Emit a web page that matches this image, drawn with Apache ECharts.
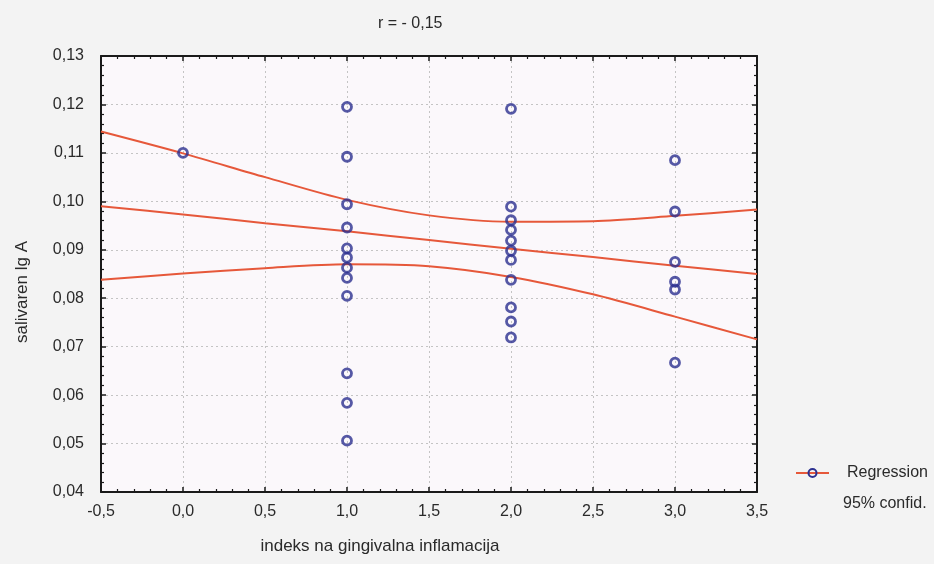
<!DOCTYPE html>
<html>
<head>
<meta charset="utf-8">
<script src="https://cdn.jsdelivr.net/npm/echarts@6/dist/echarts.min.js"></script>
<style>
  html, body { margin: 0; padding: 0; background: #f3f3f3; }
  #chart { width: 934px; height: 564px; }
</style>
</head>
<body>
<div id="chart"></div>
<script>
// Gingival inflammation index vs. salivary lg A
const idx0 = [0.110];
const idx1 = [0.1195, 0.1092, 0.0994, 0.0946, 0.0903, 0.0884, 0.0863, 0.0842, 0.0805, 0.0645, 0.0584, 0.0506];
const idx2 = [0.1191, 0.0989, 0.0961, 0.0941, 0.0919, 0.0898, 0.0879, 0.0838, 0.0781, 0.0752, 0.0719];
const idx3 = [0.1085, 0.0979, 0.0875, 0.0834, 0.0818, 0.0667];

// Regression line and 95% confidence band, sampled along the index axis
const bandX = [-0.5, 0.0, 0.5, 1.0, 1.5, 2.0, 2.5, 3.0, 3.5];
const fitY  = [0.0990, 0.0973, 0.0955, 0.0938, 0.0920, 0.0902, 0.0885, 0.0867, 0.0850];
const upperY = [0.1144, 0.1099, 0.1050, 0.1003, 0.0971, 0.0958, 0.0959, 0.0970, 0.0983];
const lowerY = [0.0838, 0.0851, 0.0862, 0.0870, 0.0866, 0.0844, 0.0808, 0.0762, 0.0715];

const xTicks = { min: -0.5, max: 3.5, step: 0.5 };
const yTicks = { min: 0.04, max: 0.13, step: 0.01 };

const groups = [[0, idx0], [1, idx1], [2, idx2], [3, idx3]];
const points = [];
groups.forEach(([x, ys]) => ys.forEach(y => points.push([x, y])));
const pairs = ys => bandX.map((x, i) => [x, ys[i]]);

const comma = (v, d) => v.toFixed(d).replace('.', ',');
const FONT = 'Liberation Sans, Arial, sans-serif';
const INK = '#2a2a2a';
const RED = '#e6583a';
const BLUE = '#2c3090';

function frameAxis(pos, isX, withLabels) {
  const r = isX ? xTicks : yTicks;
  return {
    type: 'value', position: pos,
    min: r.min, max: r.max, interval: r.step,
    axisLine: { show: true, onZero: false, lineStyle: { color: '#1a1a1a', width: 2 } },
    axisTick: { show: true, inside: true, length: 5, lineStyle: { color: '#1a1a1a', width: 1.5 } },
    minorTick: { show: true, splitNumber: 5, length: 3, lineStyle: { color: '#1a1a1a', width: 1.2 } },
    splitLine: withLabels ? { show: true, lineStyle: { color: '#c4c4c4', type: [2, 3], width: 1 } } : { show: false },
    axisLabel: withLabels ? {
      show: true, color: INK, fontFamily: FONT, fontSize: 16,
      margin: isX ? 12 : 17,
      formatter: v => comma(v, isX ? 1 : 2)
    } : { show: false }
  };
}

const chart = echarts.init(document.getElementById('chart'), null, { renderer: 'canvas' });
chart.setOption({
  backgroundColor: '#f3f3f3',
  animation: false,
  title: {
    text: 'r = - 0,15', left: 373, top: 11,
    textStyle: { fontFamily: FONT, fontSize: 16, fontWeight: 'normal', color: INK }
  },
  grid: { left: 101, top: 56, width: 656, height: 436, show: true, backgroundColor: '#fbf8fb', borderWidth: 0 },
  xAxis: [frameAxis('bottom', true, true), frameAxis('top', true, false)],
  yAxis: [frameAxis('left', false, true), frameAxis('right', false, false)],
  legend: {
    data: ['Regression'], left: 795, top: 465, padding: 0,
    itemWidth: 33, itemHeight: 10,
    textStyle: { fontFamily: FONT, fontSize: 16, color: INK, padding: [0, 0, 0, 13] }
  },
  graphic: [
    { type: 'text', x: 843, y: 504,
      style: { text: '95% confid.', font: '16px ' + FONT, fill: INK, verticalAlign: 'middle' } },
    { type: 'text', x: 380, y: 546,
      style: { text: 'indeks na gingivalna inflamacija', font: '17px ' + FONT, fill: INK, align: 'center', verticalAlign: 'middle' } },
    { type: 'text', x: 22, y: 292, rotation: Math.PI / 2,
      style: { text: 'salivaren lg A', font: '17px ' + FONT, fill: INK, align: 'center', verticalAlign: 'middle' } }
  ],
  series: [
    { name: 'Regression', type: 'line', data: pairs(fitY), smooth: 0.3,
      showSymbol: false, symbol: 'circle', symbolSize: 9,
      itemStyle: { color: 'rgba(0,0,0,0)', borderColor: BLUE, borderWidth: 2.8 },
      lineStyle: { color: RED, width: 2 }, z: 3 },
    { name: 'upper', type: 'line', data: pairs(upperY), smooth: 0.3, showSymbol: false,
      lineStyle: { color: RED, width: 2 }, z: 3 },
    { name: 'lower', type: 'line', data: pairs(lowerY), smooth: 0.3, showSymbol: false,
      lineStyle: { color: RED, width: 2 }, z: 3 },
    { name: 'points', type: 'scatter', data: points, symbol: 'circle', symbolSize: 9,
      itemStyle: { color: 'rgba(0,0,0,0)', borderColor: BLUE, borderWidth: 2.8 }, z: 4 }
  ]
});
</script>
</body>
</html>
